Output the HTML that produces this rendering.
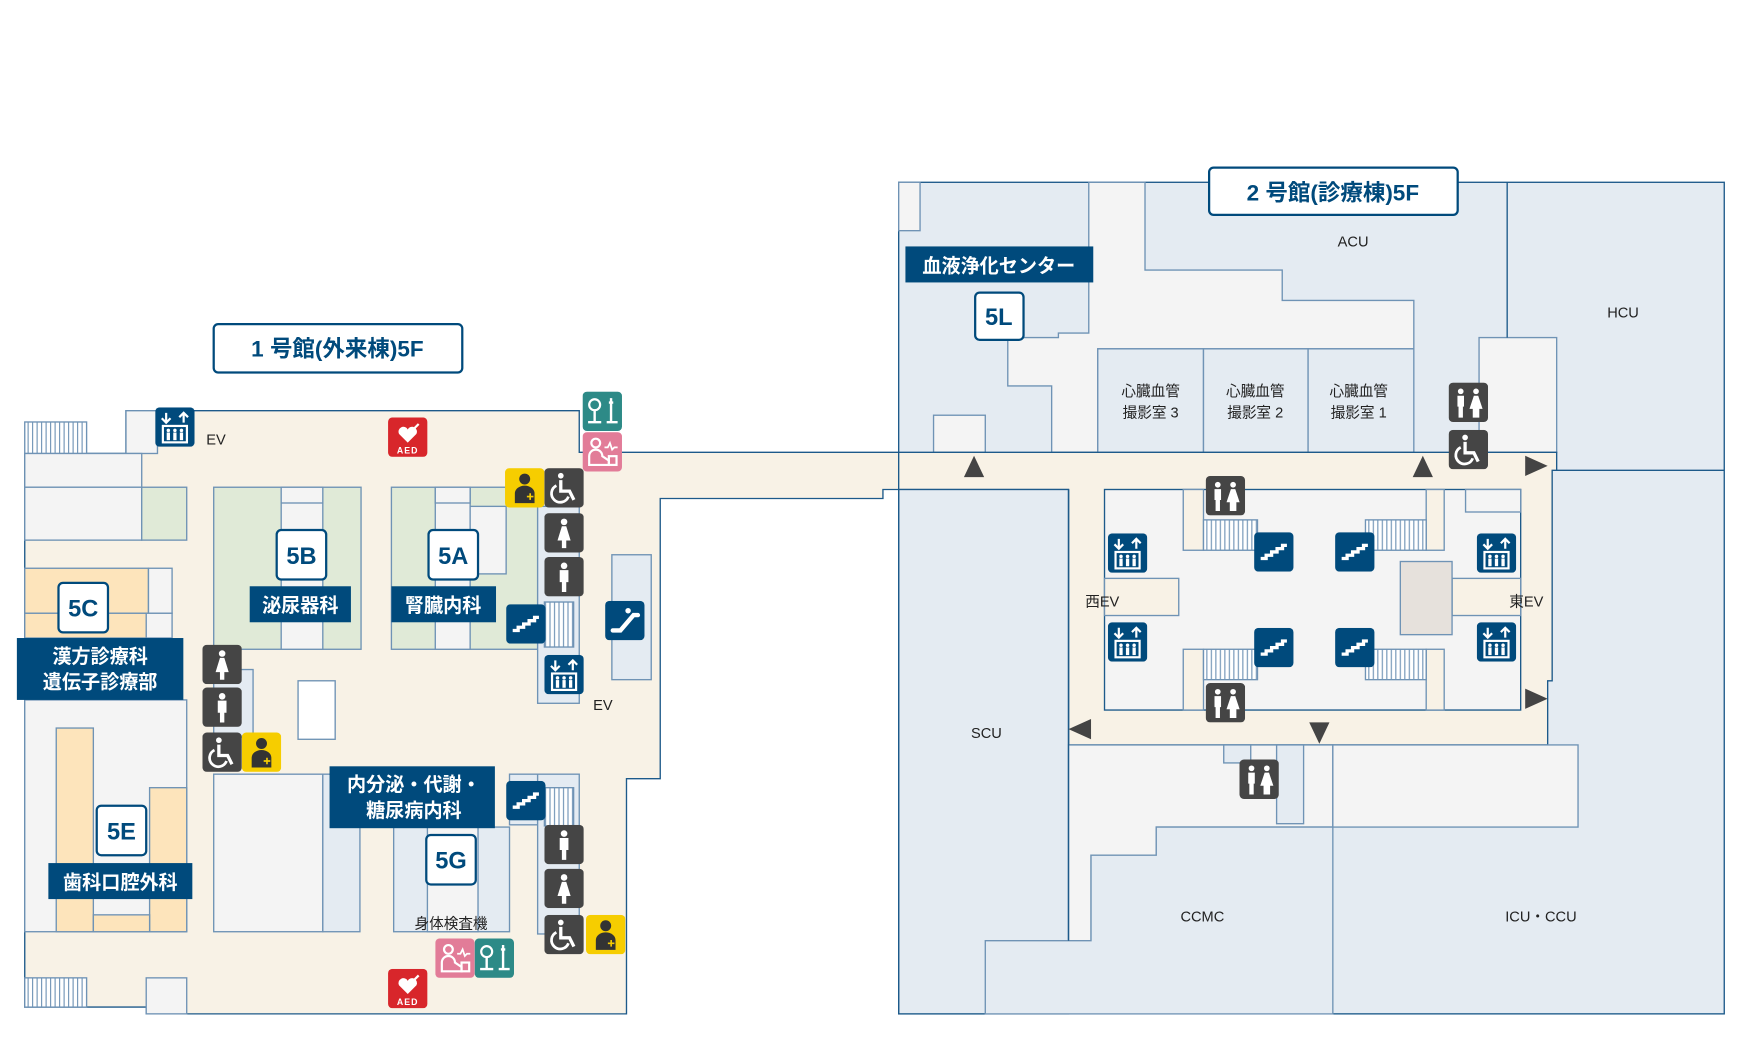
<!DOCTYPE html>
<html><head><meta charset="utf-8"><style>
html,body{margin:0;padding:0;background:#fff;}
svg{display:block;}
text{font-family:"Liberation Sans","Noto Sans CJK JP",sans-serif;}
</style></head><body>
<svg width="1758" height="1060" viewBox="0 0 1563 942" preserveAspectRatio="none" xmlns="http://www.w3.org/2000/svg">
<defs>
<symbol id="ev" viewBox="0 0 36 36"><rect width="36" height="36" rx="4" fill="#004a7c"/><path d="M10 5v9M6 10l4 4 4-4M26 14V5M22 9l4-4 4 4" stroke="#fff" stroke-width="2" fill="none"/><rect x="7" y="17" width="22" height="15" fill="none" stroke="#fff" stroke-width="2"/><g fill="#fff"><circle cx="12" cy="21" r="1.6"/><circle cx="18" cy="21" r="1.6"/><circle cx="24" cy="21" r="1.6"/><rect x="10.5" y="23" width="3" height="7"/><rect x="16.5" y="23" width="3" height="7"/><rect x="22.5" y="23" width="3" height="7"/></g></symbol>
<symbol id="st" viewBox="0 0 36 36"><rect width="36" height="36" rx="4" fill="#004a7c"/><path d="M6 24h5v-3h5v-3h5v-3h5v-3h4" stroke="#fff" stroke-width="3" fill="none"/></symbol>
<symbol id="esc" viewBox="0 0 36 36"><rect width="36" height="36" rx="4" fill="#004a7c"/><path d="M7 27h7l12-14h4" stroke="#fff" stroke-width="4" fill="none" stroke-linecap="round"/><circle cx="21" cy="9" r="2.5" fill="#fff"/></symbol>
<symbol id="m" viewBox="0 0 36 36"><rect width="36" height="36" rx="4" fill="#454545"/><circle cx="18" cy="8" r="3" fill="#fff"/><path d="M14 12h8v11h-2v9h-4v-9h-2z" fill="#fff"/></symbol>
<symbol id="f" viewBox="0 0 36 36"><rect width="36" height="36" rx="4" fill="#454545"/><circle cx="18" cy="8" r="3" fill="#fff"/><path d="M16 12h4l4 13h-4v7h-4v-7h-4z" fill="#fff"/></symbol>
<symbol id="mf" viewBox="0 0 36 36"><rect width="36" height="36" rx="4" fill="#454545"/><circle cx="11" cy="8" r="2.6" fill="#fff"/><path d="M8 12h6v10h-1v10h-4V22H8z" fill="#fff"/><circle cx="25" cy="8" r="2.6" fill="#fff"/><path d="M23 12h4l4 12h-3v8h-6v-8h-3z" fill="#fff"/></symbol>
<symbol id="wc" viewBox="0 0 36 36"><rect width="36" height="36" rx="4" fill="#454545"/><circle cx="15" cy="7" r="2.6" fill="#fff"/><path d="M15 11v10h8l4 8" stroke="#fff" stroke-width="3" fill="none"/><path d="M11 16a8 8 0 1 0 11 10" stroke="#fff" stroke-width="2.5" fill="none"/></symbol>
<symbol id="yl" viewBox="0 0 36 36"><rect width="36" height="36" rx="4" fill="#f6cd00"/><circle cx="18" cy="10" r="5" fill="#333"/><path d="M9 32v-9a9 7 0 0 1 18 0v9z" fill="#333"/><path d="M20 26h6M23 23v6" stroke="#f6cd00" stroke-width="1.5"/></symbol>
<symbol id="aed" viewBox="0 0 36 36"><rect width="36" height="36" rx="4" fill="#d8262b"/><path d="M18 23l-8-8a4 4 0 0 1 8-4 4 4 0 0 1 8 4z" fill="#fff"/><path d="M20 14l8-8" stroke="#fff" stroke-width="2"/><text x="18" y="33" font-size="8" font-weight="bold" fill="#fff" text-anchor="middle" letter-spacing="1">AED</text></symbol>
<symbol id="tl" viewBox="0 0 36 36"><rect width="36" height="36" rx="4" fill="#2d8a87"/><circle cx="11" cy="12" r="5" fill="none" stroke="#fff" stroke-width="2"/><path d="M11 17v10M5 28h12M26 6v22M22 28h10M24 10h4" stroke="#fff" stroke-width="2.2" fill="none"/></symbol>
<symbol id="pk" viewBox="0 0 36 36"><rect width="36" height="36" rx="4" fill="#e27c98"/><circle cx="12" cy="10" r="4" fill="none" stroke="#fff" stroke-width="2"/><path d="M6 30v-8a6 6 0 0 1 12 0l6 4v4z" fill="none" stroke="#fff" stroke-width="2"/><path d="M20 14h3l2-4 2 6 2-2h3" stroke="#fff" stroke-width="1.6" fill="none"/><rect x="24" y="22" width="7" height="8" fill="none" stroke="#fff" stroke-width="2"/></symbol>
<pattern id="hatch" width="4" height="4" patternUnits="userSpaceOnUse"><rect width="4" height="4" fill="#fff"/><path d="M1 0v4" stroke="#6f93b5" stroke-width="1"/></pattern>
</defs>

<g stroke="#1d5a8a" stroke-width="1.2">
<polygon points="22,403 112,403 112,365 515,365 515,402 800,402 800,435 785,435 785,443 587,443 587,692 557,692 557,901 130,901 130,895 22,895" fill="#f8f2e6"/>
<g stroke="#6f93b5">
<rect x="22" y="375" width="55" height="28" fill="url(#hatch)"/>
<rect x="112" y="365" width="28" height="38" fill="#f4f4f4"/>
<rect x="22" y="403" width="104" height="30" fill="#f4f4f4"/>
<rect x="22" y="433" width="104" height="47" fill="#f4f4f4"/>
<rect x="126" y="433" width="40" height="47" fill="#e0ead7"/>
<rect x="22" y="505" width="110" height="40" fill="#fde4bb"/>
<rect x="132" y="505" width="21" height="40" fill="#f4f4f4"/>
<rect x="22" y="545" width="110" height="22" fill="#fde4bb"/>
<rect x="130" y="545" width="23" height="22" fill="#f4f4f4"/>
<rect x="22" y="622" width="144" height="206" fill="#f4f4f4"/>
<rect x="50" y="647" width="33" height="181" fill="#fde4bb"/>
<rect x="133" y="700" width="33" height="128" fill="#fde4bb"/>
<rect x="83" y="813" width="50" height="15" fill="#fde4bb"/>
<rect x="22" y="869" width="55" height="26" fill="url(#hatch)"/>
<rect x="130" y="869" width="36" height="32" fill="#f4f4f4"/>
<rect x="190" y="433" width="131" height="144" fill="#e0ead7"/>
<rect x="250" y="433" width="37" height="144" fill="#f4f4f4"/>
<rect x="250" y="433" width="37" height="14" fill="#f4f4f4"/>
<rect x="348" y="433" width="130" height="144" fill="#e0ead7"/>
<rect x="387" y="433" width="31" height="144" fill="#f4f4f4"/>
<rect x="387" y="433" width="31" height="14" fill="#f4f4f4"/>
<rect x="418" y="450" width="32" height="60" fill="#f4f4f4"/>
<rect x="478" y="450" width="37" height="175" fill="#e4ebf2"/>
<rect x="484" y="535" width="26" height="40" fill="url(#hatch)"/>
<rect x="544" y="493" width="35" height="111" fill="#e4ebf2"/>
<rect x="265" y="605" width="33" height="52" fill="#fff"/>
<rect x="190" y="595" width="35" height="60" fill="#e4ebf2"/>
<rect x="190" y="688" width="97" height="140" fill="#f4f4f4"/>
<rect x="287" y="688" width="33" height="140" fill="#e4ebf2"/>
<rect x="350" y="735" width="103" height="93" fill="#e4ebf2"/>
<rect x="380" y="735" width="45" height="93" fill="#f4f4f4"/>
<rect x="453" y="688" width="25" height="45" fill="#e4ebf2"/>
<rect x="478" y="688" width="37" height="142" fill="#e4ebf2"/>
<rect x="484" y="700" width="26" height="34" fill="url(#hatch)"/>
</g>

<rect x="799" y="162" width="734" height="739" fill="#e4ebf2"/>
<g stroke="#6f93b5">
<rect x="799" y="162" width="19" height="43" fill="#f4f4f4"/>
<polygon points="968,162 1018,162 1018,240 1140,240 1140,267 1257,267 1257,310 976,310 976,402 935,402 935,343 896,343 896,300 941,300 941,296 968,296" fill="#f4f4f4"/>
<rect x="976" y="310" width="94" height="92" fill="#e4ebf2"/>
<rect x="1070" y="310" width="93" height="92" fill="#e4ebf2"/>
<rect x="1163" y="310" width="94" height="92" fill="#e4ebf2"/>
<rect x="830" y="369" width="46" height="33" fill="#f4f4f4"/>
<rect x="1315" y="300" width="69" height="102" fill="#f4f4f4"/>
</g>
<line x1="1340" y1="162" x2="1340" y2="300"/>
<line x1="1384" y1="418" x2="1533" y2="418"/>
<polygon points="799,402 1384,402 1384,418 1380,418 1380,605 1376,605 1376,662 950,662 950,435 799,435" fill="#f8f2e6"/>
<rect x="799" y="435" width="151" height="466" fill="#e4ebf2"/>
<polygon points="950,662 1185,662 1185,735 1028,735 1028,760 970,760 970,836 950,836" fill="#f4f4f4" stroke="#6f93b5"/>
<polygon points="876,901 876,836 970,836 970,760 1028,760 1028,735 1185,735 1185,901" fill="#e4ebf2" stroke="#6f93b5"/>
<rect x="1185" y="662" width="218" height="73" fill="#f4f4f4" stroke="#6f93b5"/>
<rect x="1088" y="662" width="24" height="16" fill="#e4ebf2" stroke="#6f93b5"/>
<rect x="1135" y="662" width="24" height="70" fill="#e4ebf2" stroke="#6f93b5"/>
<rect x="982" y="435" width="370" height="196" fill="#f4f4f4"/>
<g stroke="#6f93b5">
<rect x="1052" y="435" width="18" height="54" fill="#f8f2e6"/>
<rect x="1070" y="462" width="48" height="27" fill="url(#hatch)"/>
<rect x="1052" y="577" width="18" height="54" fill="#f8f2e6"/>
<rect x="1070" y="577" width="48" height="27" fill="url(#hatch)"/>
<rect x="1268" y="435" width="16" height="54" fill="#f8f2e6"/>
<rect x="1214" y="462" width="54" height="27" fill="url(#hatch)"/>
<rect x="1268" y="577" width="16" height="54" fill="#f8f2e6"/>
<rect x="1214" y="577" width="54" height="27" fill="url(#hatch)"/>
<rect x="982" y="514" width="66" height="33" fill="#f8f2e6"/>
<rect x="1291" y="514" width="61" height="33" fill="#f8f2e6"/>
<rect x="1245" y="499" width="46" height="65" fill="#e6e1dc"/>
<rect x="1303" y="435" width="49" height="20" fill="#f4f4f4"/>
</g>
<line x1="799" y1="435" x2="799" y2="901"/>
<line x1="950" y1="435" x2="950" y2="836"/>
</g>

<g fill="#444">
<polygon points="866,405 857,424 875,424"/>
<polygon points="1265,405 1256,424 1274,424"/>
<polygon points="1376,414 1356,405 1356,423"/>
<polygon points="1376,621 1356,612 1356,630"/>
<polygon points="1173,661 1164,642 1182,642"/>
<polygon points="950,648 970,639 970,657"/>
</g>

<rect x="190" y="288" width="221" height="43" rx="4" fill="#fff" stroke="#004a7c" stroke-width="2"/>
<text x="300" y="317" font-size="20" font-weight="bold" fill="#004a7c" text-anchor="middle">1 号館(外来棟)5F</text>
<rect x="1075" y="149" width="221" height="42" rx="4" fill="#fff" stroke="#004a7c" stroke-width="2"/>
<text x="1185" y="178" font-size="20" font-weight="bold" fill="#004a7c" text-anchor="middle">2 号館(診療棟)5F</text>

<g fill="#004a7c">
<rect x="15" y="567" width="148" height="55"/>
<rect x="43" y="767" width="128" height="32"/>
<rect x="222" y="521" width="90" height="32"/>
<rect x="348" y="521" width="93" height="32"/>
<rect x="293" y="681" width="147" height="55"/>
<rect x="805" y="219" width="167" height="32"/>
</g>
<g fill="#fff" font-size="17" font-weight="bold" text-anchor="middle">
<text x="89" y="589">漢方診療科</text><text x="89" y="612">遺伝子診療部</text>
<text x="107" y="790">歯科口腔外科</text>
<text x="267" y="544">泌尿器科</text>
<text x="394" y="544">腎臓内科</text>
<text x="368" y="703">内分泌・代謝・</text><text x="368" y="726">糖尿病内科</text>
<text x="888" y="242">血液浄化センター</text>
</g>

<g fill="#fff" stroke="#004a7c" stroke-width="2">
<rect x="52" y="518" width="44" height="44" rx="4"/>
<rect x="86" y="716" width="44" height="44" rx="4"/>
<rect x="246" y="471" width="44" height="44" rx="4"/>
<rect x="381" y="471" width="44" height="44" rx="4"/>
<rect x="379" y="742" width="44" height="44" rx="4"/>
<rect x="867" y="260" width="43" height="42" rx="4"/>
</g>
<g fill="#004a7c" font-size="21" font-weight="bold" text-anchor="middle">
<text x="74" y="548">5C</text><text x="108" y="746">5E</text><text x="268" y="501">5B</text>
<text x="403" y="501">5A</text><text x="401" y="772">5G</text><text x="888" y="289">5L</text>
</g>

<g fill="#222" font-size="13" text-anchor="middle">
<text x="192" y="395">EV</text><text x="536" y="631">EV</text>
<text x="401" y="825">身体検査機</text>
<text x="1203" y="219">ACU</text><text x="1443" y="282">HCU</text>
<text x="877" y="656">SCU</text><text x="1069" y="819">CCMC</text><text x="1370" y="819">ICU・CCU</text>
<text x="980" y="539">西EV</text><text x="1357" y="539">東EV</text>
<text x="1023" y="352">心臓血管</text><text x="1023" y="371">撮影室 3</text>
<text x="1116" y="352">心臓血管</text><text x="1116" y="371">撮影室 2</text>
<text x="1208" y="352">心臓血管</text><text x="1208" y="371">撮影室 1</text>
</g>

<use href="#ev" x="138" y="362" width="35" height="35"/>
<use href="#aed" x="345" y="371" width="35" height="35"/>
<use href="#tl" x="518" y="348" width="35" height="35"/>
<use href="#pk" x="518" y="384" width="35" height="35"/>
<use href="#yl" x="449" y="416" width="35" height="35"/>
<use href="#wc" x="484" y="416" width="35" height="35"/>
<use href="#f" x="484" y="456" width="35" height="35"/>
<use href="#m" x="484" y="495" width="35" height="35"/>
<use href="#st" x="450" y="537" width="35" height="35"/>
<use href="#esc" x="538" y="534" width="35" height="35"/>
<use href="#ev" x="484" y="582" width="35" height="35"/>
<use href="#f" x="180" y="573" width="35" height="35"/>
<use href="#m" x="180" y="611" width="35" height="35"/>
<use href="#wc" x="180" y="651" width="35" height="35"/>
<use href="#yl" x="215" y="651" width="35" height="35"/>
<use href="#st" x="450" y="694" width="35" height="35"/>
<use href="#m" x="484" y="733" width="35" height="35"/>
<use href="#f" x="484" y="772" width="35" height="35"/>
<use href="#wc" x="484" y="813" width="35" height="35"/>
<use href="#yl" x="521" y="813" width="35" height="35"/>
<use href="#pk" x="387" y="834" width="35" height="35"/>
<use href="#tl" x="422" y="834" width="35" height="35"/>
<use href="#aed" x="345" y="861" width="35" height="35"/>
<use href="#mf" x="1288" y="340" width="35" height="35"/>
<use href="#wc" x="1288" y="382" width="35" height="35"/>
<use href="#mf" x="1072" y="423" width="35" height="35"/>
<use href="#st" x="1115" y="473" width="35" height="35"/>
<use href="#st" x="1187" y="473" width="35" height="35"/>
<use href="#ev" x="985" y="474" width="35" height="35"/>
<use href="#ev" x="1313" y="474" width="35" height="35"/>
<use href="#ev" x="985" y="553" width="35" height="35"/>
<use href="#st" x="1115" y="558" width="35" height="35"/>
<use href="#st" x="1187" y="558" width="35" height="35"/>
<use href="#ev" x="1313" y="553" width="35" height="35"/>
<use href="#mf" x="1072" y="607" width="35" height="35"/>
<use href="#mf" x="1102" y="675" width="35" height="35"/>
</svg>
</body></html>
